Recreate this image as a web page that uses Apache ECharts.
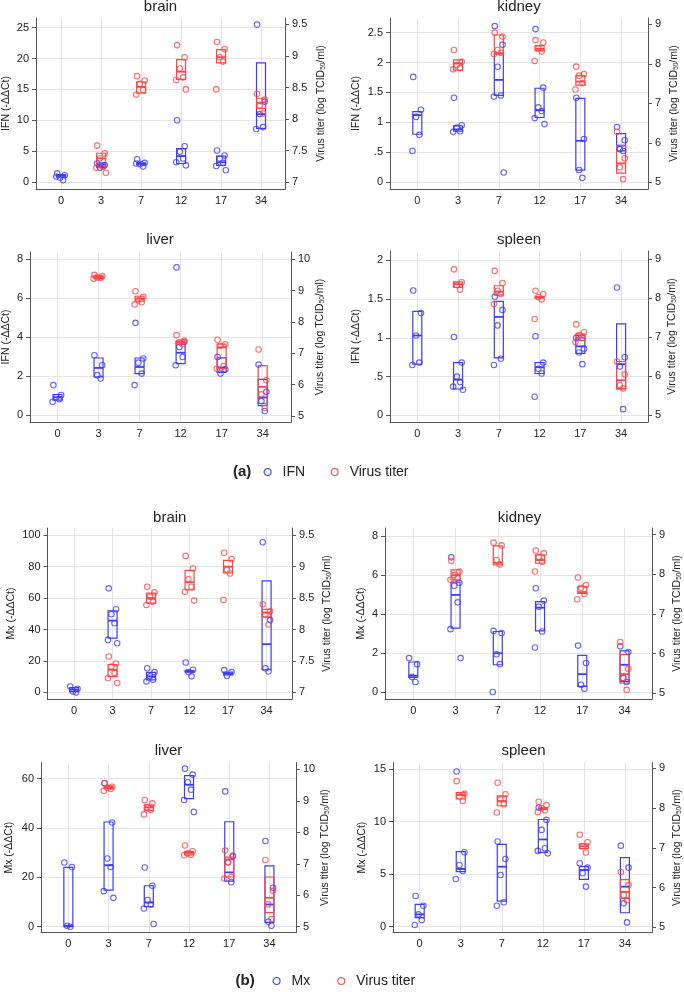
<!DOCTYPE html>
<html>
<head>
<meta charset="utf-8">
<title>IFN / Mx and virus titer</title>
<script src="https://cdn.jsdelivr.net/npm/echarts@6.0.0/dist/echarts.min.js"></script>
<style>
html,body{margin:0;padding:0;background:#fff;}
#echarts_box{width:684px;height:992px;}
</style>
</head>
<body>
<div id="echarts_box"></div>
<script>
var days = ['0','3','7','12','17','34'];

// (a) IFN : box = [low, median, high] per day, pts = observed values per day
var ifnBrainBox = [[0.8,1.0,1.2],[2.4,2.8,3.1],[2.8,3.0,3.1],[3.0,4.2,5.4],[2.7,3.2,4.2],[8.7,11.0,19.3]];
var ifnBrainPts = [[1.4,1.1,0.7,0.3,0.9],[3.0,2.7,2.3,2.5],[3.7,3.1,2.9,2.5,3.0],[10.0,5.8,4.9,3.8,3.2,2.7],[5.1,4.3,3.8,3.1,2.6,1.9],[25.5,13.0,11.0,8.9,8.6]];
var ifnKidneyBox = [[0.80,1.12,1.18],[0.85,0.88,0.94],[1.45,1.71,2.15],[1.08,1.20,1.57],[0.20,0.69,1.40],[0.52,0.61,0.81]];
var ifnKidneyPts = [[1.76,1.21,1.09,0.79,0.52],[1.41,0.95,0.91,0.85,0.84],[2.61,2.30,1.93,1.45,1.43,0.16],[2.56,1.58,1.25,1.19,1.07,0.97],[1.41,0.72,0.20,0.07],[0.92,0.70,0.55,0.52]];
var ifnLiverBox = [[0.78,0.93,1.07],[1.97,2.43,2.94],[2.14,2.48,2.94],[2.65,3.21,3.76],[2.20,2.45,2.95],[0.50,0.92,1.84]];
var ifnLiverPts = [[1.55,1.04,0.93,0.83,0.70],[3.08,2.57,2.06,1.89],[4.74,2.91,2.70,2.14,1.55],[7.58,3.76,3.50,2.99,2.57],[2.99,2.36,2.14],[2.60,1.21,0.73,0.22]];
var ifnSpleenBox = [[0.66,1.03,1.34],[0.34,0.46,0.68],[0.74,1.27,1.47],[0.54,0.62,0.68],[0.80,0.89,1.00],[0.34,0.66,1.18]];
var ifnSpleenPts = [[1.61,1.32,1.03,0.68,0.65],[1.01,0.68,0.50,0.43,0.37,0.33],[1.53,1.36,1.16,0.73,0.65],[1.02,0.68,0.60,0.54,0.24],[1.00,0.86,0.81,0.66],[1.65,0.75,0.63,0.08]];

// (a) virus titer, log TCID50/ml (no titer on day 0)
var titerBrainBoxA = [null,[7.25,7.38,7.46],[8.41,8.51,8.59],[8.63,8.75,8.94],[8.89,8.98,9.10],[8.17,8.26,8.33]];
var titerBrainPtsA = [[],[7.58,7.46,7.38,7.25,7.23,7.15],[8.68,8.61,8.56,8.46,8.39],[9.17,8.98,8.80,8.66,8.62,8.47],[9.22,9.11,8.98,8.91,8.47],[8.40,8.31,8.21,8.09]];
var titerKidneyBoxA = [null,[7.84,8.01,8.10],[8.25,8.27,8.73],[8.33,8.38,8.46],[7.46,7.55,7.70],[5.23,5.48,5.93]];
var titerKidneyPtsA = [[],[8.35,8.05,7.97,7.89,7.86],[8.79,8.69,8.35,8.28,8.25],[8.60,8.54,8.39,8.31,8.07],[7.93,7.74,7.70,7.51,7.35],[6.28,5.61,5.38,5.08]];
var titerLiverBoxA = [null,[9.38,9.44,9.47],[8.66,8.74,8.82],[7.29,7.35,7.40],[6.51,7.19,7.29],[5.40,5.93,6.61]];
var titerLiverPtsA = [[],[9.50,9.46,9.42,9.40,9.38],[8.98,8.80,8.69,8.63,8.56],[7.58,7.40,7.35,7.29],[7.43,7.29,7.24,6.59,6.51],[7.12,6.14,5.69,5.26]];
var titerSpleenBoxA = [null,[8.28,8.36,8.42],[8.08,8.17,8.32],[8.00,8.03,8.05],[6.92,7.05,7.09],[5.69,5.90,6.38]];
var titerSpleenPtsA = [[],[8.74,8.41,8.34,8.22],[8.70,8.39,8.19,8.11,7.85],[8.19,8.11,8.03,7.97,7.47],[7.33,7.13,7.06,6.98,6.88],[6.38,6.05,5.77,5.69]];

// (b) Mx
var mxBrainBox = [[0.5,1.8,3.0],[34.5,45.7,51.9],[8.0,10.2,12.7],[12.9,13.3,13.8],[11.2,12.0,12.9],[14.4,30.7,70.9]];
var mxBrainPts = [[3.8,2.3,0.6,0.0],[66.2,52.9,49.7,44.0,33.4,31.3],[15.4,12.9,10.2,8.0,7.0],[19.0,14.4,12.9,10.2],[14.2,12.9,10.6],[95.5,46.0,15.4,13.3]];
var mxKidneyBox = [[0.77,0.85,1.55],[3.28,4.98,5.63],[1.41,2.00,3.11],[3.14,4.33,4.64],[0.31,0.93,1.89],[0.56,1.41,2.12]];
var mxKidneyPts = [[1.75,1.44,0.78,0.53],[6.90,5.60,5.45,4.60,3.23,1.75],[3.14,3.03,1.95,1.44,0.02],[5.32,4.69,4.38,3.11,2.29],[2.39,1.50,0.39,0.19],[2.35,2.06,0.73,0.53]];
var mxLiverBox = [[0.0,0.4,24.0],[14.8,24.9,42.4],[8.1,9.8,16.6],[51.9,57.5,61.2],[18.5,22.0,42.5],[1.75,9.0,24.6]];
var mxLiverPts = [[26.0,24.2,0.4,0.0],[58.2,42.2,27.6,24.2,14.4,11.7],[24.0,16.6,10.8,9.0,7.4,1.1],[64.0,61.6,58.5,55.5,51.3,46.5],[54.8,28.5,26.0,18.0],[34.7,15.8,2.0,0.4]];
var mxSpleenBox = [[0.86,1.17,2.13],[5.24,5.49,7.14],[2.44,5.71,7.84],[7.08,8.30,10.20],[4.51,5.40,5.71],[1.33,3.81,6.57]];
var mxSpleenPts = [[2.92,2.00,1.17,0.63,0.16],[14.76,7.08,5.87,5.30,4.54],[8.10,6.44,4.92,2.32,2.00],[11.33,10.16,9.21,7.46,7.21,6.98],[6.03,5.62,5.08,3.81],[7.71,5.62,2.22,0.41]];

// (b) virus titer
var titerBrainBoxB = [null,[7.25,7.36,7.44],[8.42,8.50,8.58],[8.63,8.75,8.94],[8.90,9.00,9.10],[8.20,8.27,8.32]];
var titerBrainPtsB = [[],[7.57,7.46,7.41,7.31,7.23,7.15],[8.68,8.59,8.52,8.44,8.39],[9.17,8.97,8.80,8.68,8.60,8.46],[9.22,9.12,8.95,8.89,8.47],[8.40,8.29,8.23,8.08]];
var titerKidneyBoxB = [null,[7.86,7.98,8.11],[8.24,8.29,8.72],[8.28,8.36,8.49],[7.52,7.55,7.69],[5.25,5.48,5.97]];
var titerKidneyPtsB = [[],[8.34,8.07,7.98,7.90,7.86],[8.80,8.73,8.36,8.25],[8.60,8.53,8.44,8.32,8.07],[7.92,7.73,7.66,7.50,7.37],[6.29,5.61,5.38,5.08]];
var titerLiverBoxB = [null,[9.40,9.44,9.48],[8.69,8.80,8.87],[7.28,7.35,7.39],[6.58,7.14,7.21],[5.45,5.92,6.58]];
var titerLiverPtsB = [[],[9.56,9.45,9.42,9.38,9.32],[9.03,8.92,8.80,8.72,8.57],[7.58,7.40,7.33,7.29,7.27],[7.42,7.26,7.05,6.58,6.53],[7.12,6.14,5.71,5.24]];
var titerSpleenBoxB = [null,[8.23,8.33,8.39],[8.06,8.18,8.31],[7.97,7.99,8.01],[6.98,7.04,7.10],[5.72,5.89,6.20]];
var titerSpleenPtsB = [[],[8.68,8.36,8.30,8.18],[8.64,8.35,8.22,8.10,7.89],[8.16,8.08,8.00,7.94,7.90],[7.33,7.14,7.04,6.88],[6.39,6.06,5.81,5.68]];

// tick labels
var ticksIfnBrain = [0,5,10,15,20,25];
var ticksIfnKidney = [0,0.5,1,1.5,2,2.5];
var ticksIfnLiver = [0,2,4,6,8];
var ticksIfnSpleen = [0,0.5,1,1.5,2];
var ticksMxBrain = [0,20,40,60,80,100];
var ticksMxKidney = [0,2,4,6,8];
var ticksMxLiver = [0,20,40,60];
var ticksMxSpleen = [0,5,10,15];
var ticksTiterBrain = [7,7.5,8,8.5,9,9.5];
var ticksTiter5to9 = [5,6,7,8,9];
var ticksTiter5to10 = [5,6,7,8,9,10];

var BLUE = '#3c3cff';
var RED = '#ff4545';
var AXIS = '#555';
var GRIDC = '#e4e4e4';
var TXT = '#222';
var JIT = [-0.1, 0.09, -0.03, 0.05, -0.12, 0.12, 0.01];

// layout of the 8 panels (pixels) + axis ranges
var panels = [
	{title:'brain', lab:'IFN', box:ifnBrainBox, pts:ifnBrainPts, tBox:titerBrainBoxA, tPts:titerBrainPtsA,
		l:36, r:285, t:18, b:189, ty:7.5, x:[-0.63,5.6], yL:[-1.13,26.57], yR:[6.894,9.6], tL:ticksIfnBrain, tR:ticksTiterBrain, gL:24, gR:31},
	{title:'kidney', lab:'IFN', box:ifnKidneyBox, pts:ifnKidneyPts, tBox:titerKidneyBoxA, tPts:titerKidneyPtsA,
		l:390, r:648, t:18, b:189, ty:7.5, x:[-0.67,5.66], yL:[-0.117,2.746], yR:[4.83,9.16], tL:ticksIfnKidney, tR:ticksTiter5to9, gL:28, gR:21},
	{title:'liver', lab:'IFN', box:ifnLiverBox, pts:ifnLiverPts, tBox:titerLiverBoxA, tPts:titerLiverPtsA,
		l:29, r:291, t:252, b:422, ty:240.7, x:[-0.67,5.69], yL:[-0.34,8.37], yR:[4.81,10.23], tL:ticksIfnLiver, tR:ticksTiter5to10, gL:18, gR:24},
	{title:'spleen', lab:'IFN', box:ifnSpleenBox, pts:ifnSpleenPts, tBox:titerSpleenBoxA, tPts:titerSpleenPtsA,
		l:390, r:648, t:251, b:422, ty:240.7, x:[-0.67,5.66], yL:[-0.086,2.12], yR:[4.83,9.21], tL:ticksIfnSpleen, tR:ticksTiter5to9, gL:28, gR:19},
	{title:'brain', lab:'Mx', box:mxBrainBox, pts:mxBrainPts, tBox:titerBrainBoxB, tPts:titerBrainPtsB,
		l:47.5, r:292, t:528, b:699, ty:518.3, x:[-0.69,5.66], yL:[-4.2,104.6], yR:[6.895,9.614], tL:ticksMxBrain, tR:ticksTiterBrain, gL:31, gR:30},
	{title:'kidney', lab:'Mx', box:mxKidneyBox, pts:mxKidneyPts, tBox:titerKidneyBoxB, tPts:titerKidneyPtsB,
		l:385, r:654, t:528, b:699, ty:518.3, x:[-0.67,5.65], yL:[-0.34,8.4], yR:[4.85,9.17], tL:ticksMxKidney, tR:ticksTiter5to9, gL:18, gR:20},
	{title:'liver', lab:'Mx', box:mxLiverBox, pts:mxLiverPts, tBox:titerLiverBoxB, tPts:titerLiverPtsB,
		l:41, r:296, t:762.5, b:932.7, ty:751.7, x:[-0.68,5.66], yL:[-2.42,66.5], yR:[4.81,10.22], tL:ticksMxLiver, tR:ticksTiter5to10, gL:26, gR:24},
	{title:'spleen', lab:'Mx', box:mxSpleenBox, pts:mxSpleenPts, tBox:titerSpleenBoxB, tPts:titerSpleenPtsB,
		l:393, r:654, t:762.5, b:932.7, ty:751.7, x:[-0.65,5.66], yL:[-0.57,15.62], yR:[4.86,9.15], tL:ticksMxSpleen, tR:ticksTiter5to9, gL:25, gR:20}
];

function boxData(arr){
	var out = [];
	for(var i=0;i<arr.length;i++){
		if(arr[i]) out.push([i, arr[i][0], arr[i][1], arr[i][2]]);
	}
	return out;
}
function ptData(arr){
	var out = [];
	for(var i=0;i<arr.length;i++){
		for(var k=0;k<arr[i].length;k++){
			out.push([i + JIT[k % JIT.length], arr[i][k]]);
		}
	}
	return out;
}
function boxRender(color){
	return function(params, api){
		var x = api.value(0);
		var lo = api.coord([x, api.value(1)]);
		var md = api.coord([x, api.value(2)]);
		var hi = api.coord([x, api.value(3)]);
		var w = 4.5;
		return {type:'group', children:[
			{type:'rect', shape:{x:lo[0]-w, y:hi[1], width:w*2, height:lo[1]-hi[1]}, style:{fill:'none', stroke:color, lineWidth:1.2}},
			{type:'line', shape:{x1:md[0]-w, y1:md[1], x2:md[0]+w, y2:md[1]}, style:{stroke:color, lineWidth:1.8}}
		]};
	};
}
function tickFmt(v){
	var s = String(Math.round(v*100)/100);
	return s.replace(/^0\./,'.');
}
function dot(color){
	return {color:'transparent', borderColor:color, borderWidth:1.1};
}

var grids = [], xAxes = [], yAxes = [], series = [], titles = [];
panels.forEach(function(p, i){
	grids.push({left:p.l, top:p.t, width:p.r-p.l, height:p.b-p.t, show:false});
	xAxes.push({
		type:'value', gridIndex:i, min:p.x[0], max:p.x[1],
		axisLine:{onZero:false, lineStyle:{color:AXIS, width:1}},
		axisTick:{show:false, customValues:[0,1,2,3,4,5]},
		axisLabel:{customValues:[0,1,2,3,4,5], margin:6, fontSize:11, color:TXT, formatter:function(v){ return days[Math.round(v)]; }},
		splitLine:{show:true, lineStyle:{color:GRIDC, width:1}}
	});
	yAxes.push({
		type:'value', gridIndex:i, position:'left', min:p.yL[0], max:p.yL[1],
		name:p.lab + ' (-ΔΔCt)', nameLocation:'middle', nameRotate:90, nameGap:p.gL,
		nameTextStyle:{fontSize:10.5, color:TXT},
		axisLine:{show:true, onZero:false, lineStyle:{color:AXIS, width:1}},
		axisTick:{show:true, length:4, customValues:p.tL, lineStyle:{color:AXIS}},
		axisLabel:{customValues:p.tL, margin:7, fontSize:11, color:TXT, formatter:tickFmt},
		splitLine:{show:true, lineStyle:{color:GRIDC, width:1}}
	});
	yAxes.push({
		type:'value', gridIndex:i, position:'right', min:p.yR[0], max:p.yR[1],
		name:'{n|Virus titer (log TCID}{s|50}{n|/ml)}', nameLocation:'middle', nameRotate:90, nameGap:p.gR,
		nameTextStyle:{fontSize:10.5, color:TXT, rich:{n:{fontSize:10.5, color:TXT}, s:{fontSize:6.5, color:TXT, verticalAlign:'bottom'}}},
		axisLine:{show:true, onZero:false, lineStyle:{color:AXIS, width:1}},
		axisTick:{show:true, length:4, customValues:p.tR, lineStyle:{color:AXIS}},
		axisLabel:{customValues:p.tR, margin:7, fontSize:11, color:TXT, formatter:tickFmt},
		splitLine:{show:false}
	});
	var yl = i*2, yr = i*2+1;
	series.push({type:'custom', name:p.lab, xAxisIndex:i, yAxisIndex:yl, renderItem:boxRender(BLUE), encode:{x:0, y:[1,2,3]}, data:boxData(p.box), silent:true});
	series.push({type:'custom', name:'Virus titer', xAxisIndex:i, yAxisIndex:yr, renderItem:boxRender(RED), encode:{x:0, y:[1,2,3]}, data:boxData(p.tBox), silent:true});
	series.push({type:'scatter', name:p.lab, xAxisIndex:i, yAxisIndex:yl, symbol:'circle', symbolSize:5.5, itemStyle:dot(BLUE), data:ptData(p.pts)});
	series.push({type:'scatter', name:'Virus titer', xAxisIndex:i, yAxisIndex:yr, symbol:'circle', symbolSize:5.5, itemStyle:dot(RED), data:ptData(p.tPts)});
	titles.push({text:p.title, left:(p.l+p.r)/2, top:p.ty-8, textAlign:'center', padding:0,
		textStyle:{fontSize:15, fontWeight:'normal', color:TXT}});
});
titles.push({text:'(a)', left:233, top:464, padding:0, textStyle:{fontSize:15, fontWeight:'bold', color:TXT}});
titles.push({text:'(b)', left:235.5, top:973, padding:0, textStyle:{fontSize:15, fontWeight:'bold', color:TXT}});

var legendBase = {orient:'horizontal', padding:0, icon:'circle', itemWidth:7, itemHeight:7, selectedMode:false,
	textStyle:{fontSize:14, color:TXT, padding:[0,0,0,6.5]}};
var legendA = echarts.util.merge({left:263.5, top:465, itemGap:25.5,
	data:[{name:'IFN', itemStyle:dot(BLUE)}, {name:'Virus titer', itemStyle:dot(RED)}]}, legendBase, false);
var legendB = echarts.util.merge({left:272.5, top:974, itemGap:27,
	data:[{name:'Mx', itemStyle:dot(BLUE)}, {name:'Virus titer', itemStyle:dot(RED)}]}, legendBase, false);

var myChart = echarts.init(document.getElementById('echarts_box'));
myChart.setOption({
	backgroundColor:'#fff',
	animation:false,
	textStyle:{fontFamily:'"Liberation Sans", Arial, Helvetica, sans-serif'},
	title:titles,
	legend:[legendA, legendB],
	grid:grids,
	xAxis:xAxes,
	yAxis:yAxes,
	series:series
});
</script>
</body>
</html>
